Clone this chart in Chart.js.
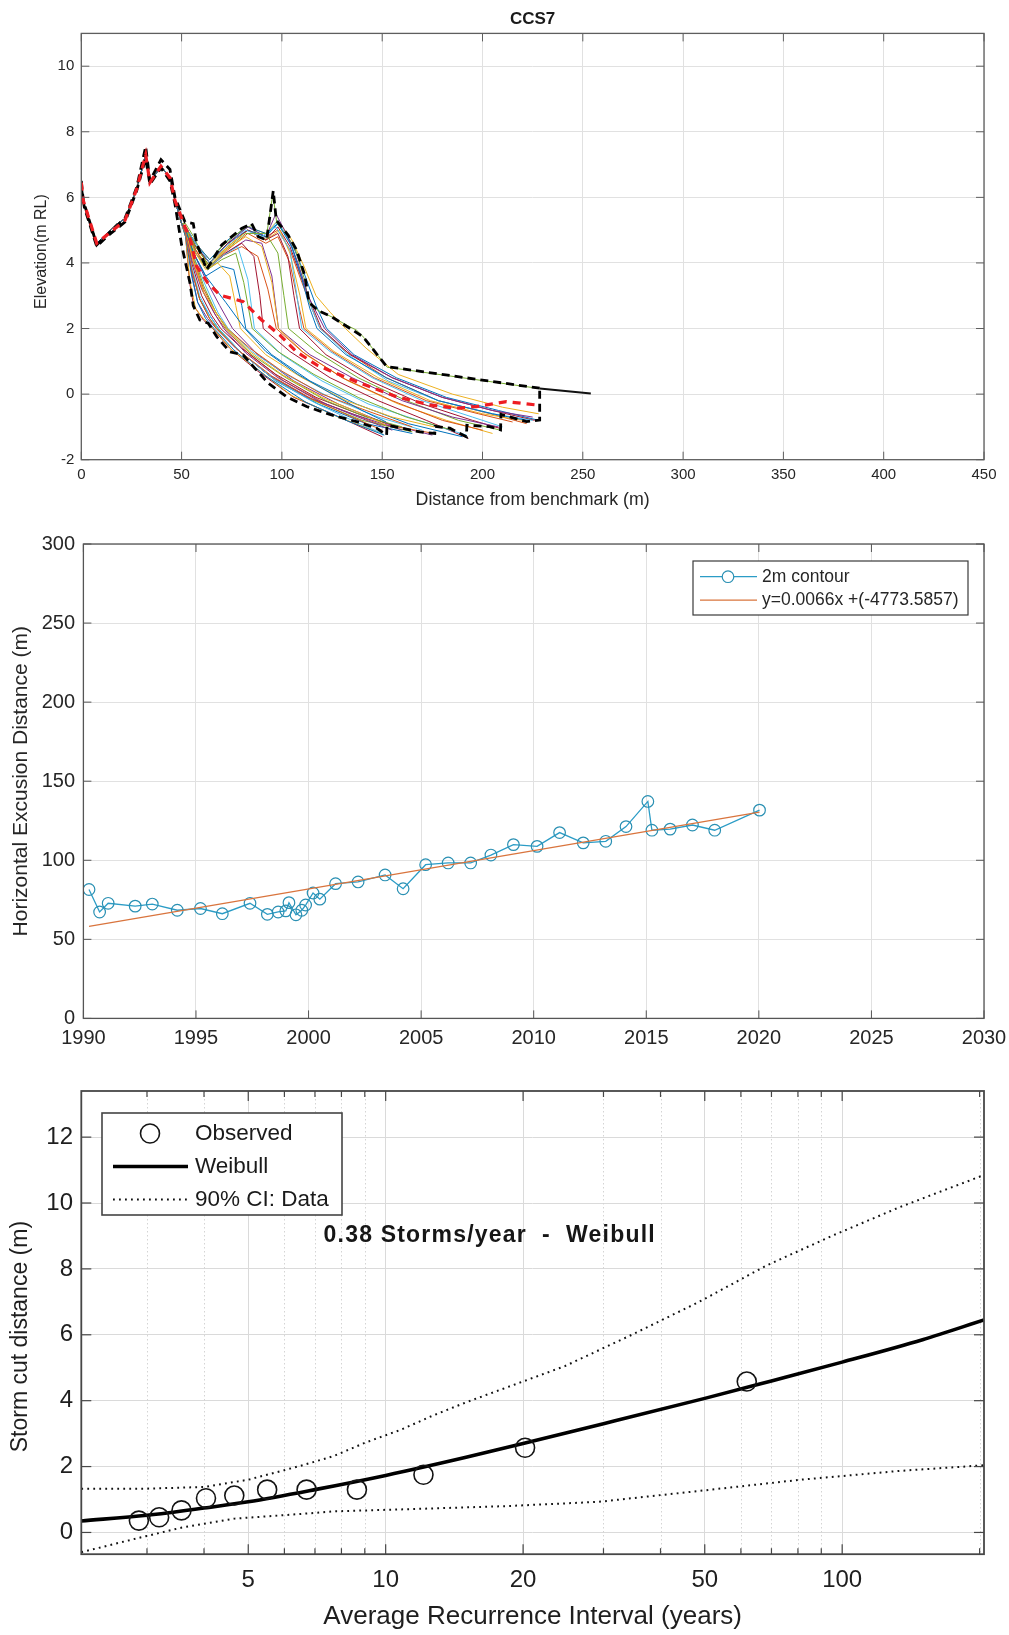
<!DOCTYPE html>
<html>
<head>
<meta charset="utf-8">
<title>CCS7 profile, 2 m contour and storm cut recurrence</title>
<script src="https://cdn.jsdelivr.net/npm/chart.js@4.4.1/dist/chart.umd.min.js"></script>
<style>
  html, body { margin: 0; padding: 0; background: #ffffff; }
  body { width: 1009px; height: 1635px; position: relative; overflow: hidden; }
  canvas { position: absolute; left: 0; }
</style>
</head>
<body>
<canvas id="profiles" width="1009" height="520" style="top:0px"></canvas>
<canvas id="excursion" width="1009" height="540" style="top:520px"></canvas>
<canvas id="stormcut" width="1009" height="575" style="top:1060px"></canvas>
<script>
// ---------------------------------------------------------------------------
// Beach profile surveys, CCS7 (distance from benchmark in m, elevation in m RL)
// ---------------------------------------------------------------------------
const distanceTicks = [0, 50, 100, 150, 200, 250, 300, 350, 400, 450];
const elevationTicks = [-2, 0, 2, 4, 6, 8, 10];

// Dune section common to every survey
const duneProfile = [[0,6.4],[1,5.85],[7.7,4.6],[12.7,4.9],[18,5.2],[21.8,5.35],[27.6,6.25],
  [32.1,7.3],[34.2,6.5],[37,6.7],[39.7,6.95],[44.2,6.6],[46.7,5.9],[50,5.2]];

const surveyYears = [1990.25,1990.72,1991.1,1992.3,1993.06,1994.17,1995.2,1996.17,1997.4,1998.17,
  1998.65,1998.99,1999.13,1999.44,1999.7,1999.87,2000.2,2000.5,2001.2,2002.2,2003.4,2004.2,2005.2,
  2006.2,2007.2,2008.1,2009.1,2010.15,2011.15,2012.2,2013.2,2014.1,2015.07,2015.25,2016.06,2017.05,
  2018.04,2020.03];

// Horizontal position of the 2 m contour for each survey
const contour2m = [81.5,67.3,72.8,71,72.3,68.4,69.5,66.2,72.8,65.8,67.3,68,73.2,65.5,68.4,71.7,
  79.3,75.4,85.2,86.3,90.7,82,97.2,98.3,98.3,103.3,109.9,108.8,117.5,111,112,121.3,137.2,119,
  119.7,122.3,119,131.7];

// Seaward part of each survey, in survey order
const seawardProfiles = [
  [[52,5.0],[56,4.3],[62,3.6],[72,2.8],[81.5,2.0],[92,1.3],[108,0.6],[125,0.0],[140,-0.5],[152,-0.85]],
  [[52,4.9],[55,3.8],[59,2.9],[64,2.3],[67.3,2.0],[78,1.35],[95,0.55],[115,-0.15],[135,-0.7],[150,-1.1]],
  [[52,5.0],[56,4.0],[61,3.1],[68,2.4],[72.8,2.0],[84,1.3],[100,0.6],[120,-0.1],[140,-0.6],[152,-0.95]],
  [[52,5.0],[55,4.1],[60,3.2],[66,2.5],[71,2.0],[82,1.25],[98,0.5],[118,-0.2],[138,-0.7],[155,-1.1]],
  [[52,5.1],[56,4.2],[61,3.3],[67,2.5],[72.3,2.0],[85,1.2],[102,0.5],[122,-0.2],[142,-0.7],[160,-1.0]],
  [[52,4.9],[55,3.9],[59,3.0],[64,2.4],[68.4,2.0],[80,1.25],[96,0.45],[116,-0.25],[135,-0.8],[150,-1.2]],
  [[52,5.0],[55,4.0],[60,3.0],[65,2.4],[69.5,2.0],[80,1.4],[97,0.6],[117,-0.1],[138,-0.6],[158,-1.0]],
  [[52,4.8],[55,3.6],[58,2.8],[62,2.3],[66.2,2.0],[76,1.35],[92,0.55],[112,-0.25],[132,-0.8],[151,-1.25]],
  [[52,5.0],[56,4.1],[61,3.2],[67,2.5],[72.8,2.0],[84,1.4],[100,0.7],[120,0.0],[142,-0.5],[165,-1.0]],
  [[52,4.8],[54,3.5],[57,2.6],[61,2.3],[65.8,2.0],[75,1.35],[88,0.75],[105,-0.05],[128,-0.7],[150,-1.2]],
  [[52,4.9],[55,3.7],[58,2.8],[63,2.3],[67.3,2.0],[77,1.4],[93,0.6],[113,-0.1],[135,-0.6],[160,-1.1]],
  [[52,5.0],[55,3.8],[59,2.9],[64,2.3],[68,2.0],[79,1.3],[95,0.5],[116,-0.2],[140,-0.8],[165,-1.15]],
  [[52,5.0],[56,4.2],[62,3.3],[68,2.5],[73.2,2.0],[85,1.3],[102,0.6],[124,-0.1],[148,-0.7],[170,-1.1]],
  [[52,4.8],[54,3.4],[56,2.7],[61,2.25],[65.5,2.0],[74,1.4],[88,0.7],[106,-0.1],[125,-0.6],[150,-1.3]],
  [[52,4.9],[55,3.8],[59,2.9],[64,2.4],[68.4,2.0],[80,1.25],[97,0.4],[118,-0.3],[142,-0.9],[165,-1.2]],
  [[52,5.0],[56,4.0],[61,3.1],[67,2.4],[71.7,2.0],[84,1.2],[101,0.4],[122,-0.3],[148,-0.9],[176,-1.2]],
  [[52,5.1],[56,4.4],[62,3.8],[68,4.0],[74,3.6],[77,2.7],[79.3,2.0],[92,1.2],[110,0.5],[132,-0.2],[155,-0.7],[176,-1.0]],
  [[52,5.0],[56,4.3],[62,3.5],[69,2.7],[75.4,2.0],[88,1.2],[106,0.4],[128,-0.3],[152,-0.9],[175,-1.25]],
  [[52,5.1],[57,4.3],[63,3.8],[70,4.1],[77,4.3],[81,3.4],[85.2,2.0],[98,1.3],[116,0.6],[138,-0.1],[162,-0.7],[185,-1.1]],
  [[52,5.1],[57,4.3],[63,3.8],[70,4.2],[78,4.5],[83,3.5],[86.3,2.0],[100,1.2],[120,0.4],[143,-0.3],[168,-0.8],[192,-1.25]],
  [[52,5.1],[57,4.3],[63,3.8],[72,4.3],[80,4.6],[86,4.2],[89,3.0],[90.7,2.0],[104,1.3],[124,0.5],[148,-0.2],[172,-0.8],[193,-1.35]],
  [[52,5.0],[56,4.3],[62,3.6],[70,3.9],[76,3.8],[80,2.7],[82,2.0],[95,1.2],[114,0.4],[137,-0.3],[163,-0.9],[190,-1.3]],
  [[52,5.1],[57,4.4],[63,3.8],[70,4.2],[80,4.5],[88,4.2],[93,3.2],[97.2,2.0],[110,1.3],[130,0.5],[155,-0.2],[180,-0.8],[200,-1.1]],
  [[52,5.1],[57,4.4],[63,3.9],[72,4.4],[82,4.8],[90,4.5],[95,3.4],[98.3,2.0],[112,1.2],[133,0.4],[158,-0.3],[182,-0.8],[205,-1.2]],
  [[52,5.1],[57,4.4],[63,3.8],[72,4.3],[82,4.7],[90,4.6],[95,3.6],[98.3,2.0],[114,1.2],[135,0.5],[160,-0.2],[185,-0.7],[208,-1.0]],
  [[52,5.1],[57,4.5],[64,3.9],[72,4.4],[82,4.9],[92,4.9],[98,4.3],[101,3.0],[103.3,2.0],[117,1.3],[138,0.5],[162,-0.2],[188,-0.8],[209,-1.1]],
  [[52,5.1],[57,4.6],[64,4.0],[72,4.5],[82,5.0],[90,4.8],[97,5.1],[104,4.4],[107,3.2],[109.9,2.0],[124,1.3],[145,0.5],[170,-0.2],[195,-0.7],[210,-1.0]],
  [[52,5.1],[57,4.5],[64,4.0],[73,4.6],[83,5.0],[92,4.7],[98,4.9],[103,4.2],[106,3.0],[108.8,2.0],[122,1.2],[144,0.4],[170,-0.3],[195,-0.8],[209,-1.05]],
  [[52,5.1],[57,4.5],[64,4.0],[73,4.6],[83,5.0],[92,4.8],[98,5.2],[105,4.5],[110,3.5],[114,2.6],[117.5,2.0],[132,1.2],[152,0.5],[178,-0.2],[205,-0.6],[222,-0.8]],
  [[52,5.1],[57,4.5],[64,3.9],[73,4.4],[83,4.9],[92,4.6],[98,4.8],[104,4.0],[108,2.8],[111,2.0],[125,1.3],[146,0.5],[172,-0.2],[198,-0.6],[215,-0.85]],
  [[52,5.1],[57,4.5],[64,4.0],[73,4.5],[83,5.0],[92,4.7],[99,5.0],[104,4.3],[109,3.0],[112,2.0],[126,1.3],[148,0.5],[174,-0.2],[200,-0.6],[220,-0.8]],
  [[52,5.1],[57,4.6],[64,4.0],[73,4.6],[83,5.1],[92,4.8],[97,5.5],[103,4.8],[108,4.0],[113,3.0],[118,2.4],[121.3,2.0],[135,1.2],[155,0.5],[180,-0.1],[205,-0.5],[225,-0.7]],
  [[52,5.2],[56,4.8],[63,3.9],[70,4.5],[80,5.0],[85,5.15],[88,4.8],[92,4.7],[95.5,6.1],[97.5,5.2],[103,4.8],[107,4.35],[111,3.55],[113.5,2.8],[118,2.55],[125,2.35],[134,2.05],[137.2,1.95],[141,1.72],[152.5,0.82],[228.5,0.17],[254,0.02]],
  [[52,5.1],[57,4.5],[64,4.0],[73,4.6],[83,5.1],[92,4.8],[98,5.3],[104,4.6],[110,3.6],[115,2.6],[119,2.0],[133,1.2],[153,0.4],[178,-0.2],[205,-0.6],[225,-0.8]],
  [[52,5.1],[57,4.5],[64,4.0],[73,4.6],[83,5.0],[92,4.7],[98,5.1],[104,4.5],[110,3.5],[115,2.7],[119.7,2.0],[134,1.2],[155,0.5],[180,-0.1],[205,-0.5],[226,-0.8]],
  [[52,5.1],[57,4.6],[64,4.1],[73,4.7],[83,5.1],[92,4.9],[98,5.2],[105,4.6],[111,3.7],[117,2.7],[122.3,2.0],[136,1.2],[157,0.5],[182,-0.1],[208,-0.5],[228,-0.8]],
  [[52,5.1],[57,4.5],[64,4.0],[73,4.5],[83,5.0],[92,4.8],[98,5.0],[104,4.4],[110,3.4],[115,2.6],[119,2.0],[132,1.3],[152,0.5],[178,-0.2],[204,-0.6],[222,-0.9]],
  [[52,5.1],[57,4.6],[64,4.1],[73,4.7],[83,5.1],[92,4.9],[98,5.3],[105,4.7],[111,3.9],[117,3.0],[124,2.5],[131.7,2.0],[142,1.4],[158,0.6],[185,0.0],[210,-0.4],[228,-0.6]]
];

// Upper and lower envelopes of all surveys, and the mean profile
const envelopeMax = [[0,6.5],[1,5.9],[7.7,4.55],[12.7,4.85],[21.8,5.36],[27.6,6.3],[32.1,7.55],[34.2,6.5],
  [39.7,7.15],[44.2,6.85],[46.7,6.0],[51.7,5.25],[55.8,5.2],[57.5,4.6],[62.5,3.8],[70,4.55],[79.9,5.05],
  [84.9,5.2],[88.2,4.8],[92.4,4.7],[95.7,6.2],[97.2,5.3],[103.1,4.85],[107.3,4.4],[111.5,3.6],[113.5,2.8],
  [118,2.55],[125,2.35],[134,2.0],[140.5,1.75],[152.2,0.84],[228.5,0.18]];
const envelopeMin = [[0,6.3],[1.5,5.7],[7.7,4.5],[12.7,4.8],[21.8,5.25],[27.6,6.2],[32.1,7.2],[34.2,6.4],
  [39.7,6.9],[44.2,6.5],[46.7,5.8],[50,4.55],[54.2,3.38],[55.8,2.7],[59.1,2.26],[63.3,2.16],[67.5,1.75],
  [74.1,1.29],[80.7,1.19],[86.5,0.79],[93.2,0.33],[102.3,-0.08],[112.3,-0.38],[123.9,-0.62],[137.2,-0.84],
  [147.2,-1.04],[152.2,-1.25],[152.4,-0.95],[168.8,-1.15],[176.2,-1.2],[176.4,-0.98],[183.7,-1.04],
  [192,-1.3],[192.2,-0.95],[203.6,-0.99],[209,-1.09],[209.2,-0.62],[221.9,-0.84],[228.5,-0.79],[228.5,0.18]];
const profileMean = [[0,6.45],[1,5.9],[7.7,4.6],[12.7,4.85],[21.8,5.3],[27.6,6.25],[32.1,7.3],[34.2,6.45],
  [39.7,6.95],[44.2,6.6],[46.7,5.9],[51.7,5.1],[54,4.8],[57.5,3.9],[63,3.4],[69.1,3.02],[80.7,2.82],
  [89.9,2.26],[99,1.8],[107.3,1.29],[117.3,0.89],[127.2,0.63],[137.2,0.38],[147.2,0.15],[157.2,-0.08],
  [173.7,-0.33],[187,-0.43],[197,-0.38],[211.9,-0.23],[226.9,-0.33]];
// Last chainage covered by the envelope; beyond it a survey is drawn in black
const envelopeEnd = 228.5;

// ---------------------------------------------------------------------------
// 2 m contour: horizontal excursion and linear trend
// ---------------------------------------------------------------------------
const yearTicks = [1990, 1995, 2000, 2005, 2010, 2015, 2020, 2025, 2030];
const excursionTicks = [0, 50, 100, 150, 200, 250, 300];
const trendYears = [1990.25, 2020.03];
const trendValues = [58.2, 130.5];
const trendSlope = '0.0066';
const trendIntercept = '-4773.5857';

// ---------------------------------------------------------------------------
// Storm cut distance against average recurrence interval
// ---------------------------------------------------------------------------
const stormRate = 0.38;
const ariMajorTicks = [5, 10, 20, 50, 100];
const ariMinorTicks = [3, 4, 6, 7, 8, 9, 30, 40, 60, 70, 80, 90, 200];
const cutTicks = [0, 2, 4, 6, 8, 10, 12];
const ariObserved = [2.88, 3.19, 3.57, 4.04, 4.66, 5.5, 6.71, 8.65, 12.1, 20.2, 61.8];
const cutObserved = [0.36, 0.46, 0.67, 1.04, 1.12, 1.3, 1.3, 1.3, 1.75, 2.57, 4.58];
const ariFit = [2.154, 3, 4, 5, 7, 10, 15, 20, 30, 50, 70, 100, 150, 204.5];
const cutWeibull = [0.35, 0.52, 0.74, 0.93, 1.3, 1.73, 2.28, 2.7, 3.3, 4.07, 4.6, 5.17, 5.85, 6.45];
const ariUpper = [2.154, 3, 4, 5, 6.5, 7.7, 9, 10.8, 12.7, 15, 18.4, 24.7, 34.6, 48.6, 68.2, 95.6, 134, 204.5];
const cutUpper = [1.33, 1.33, 1.38, 1.6, 2.02, 2.32, 2.72, 3.12, 3.55, 3.95, 4.4, 5.05, 6.0, 7.0, 8.1, 9.02, 9.88, 10.85];
const ariLower = [2.154, 2.83, 3.58, 4.67, 6.5, 7.7, 10.8, 18.4, 29.3, 48.6, 81, 134, 204.5];
const cutLower = [-0.6, -0.19, 0.15, 0.42, 0.56, 0.64, 0.7, 0.8, 0.93, 1.26, 1.6, 1.87, 2.04];

// ---------------------------------------------------------------------------
const FONT = "'Liberation Sans', Arial, Helvetica, sans-serif";
const INK = '#262626';
const GRID = '#e1e1e1';
const LINE_COLOURS = ['#0072BD', '#D95319', '#EDB120', '#7E2F8E', '#77AC30', '#4DBEEE', '#A2142F'];

const pairs = arr => arr.map(([x, y]) => ({ x, y }));
const zipXY = (xs, ys) => xs.map((x, i) => ({ x, y: ys[i] }));
const fixTicks = list => scale => { scale.ticks = list.map(v => ({ value: v })); };
const plainLabel = v => String(v);
// fixed axis band sizes; end labels must not pull the plot area in
const bandHeight = h => s => { s.height = h; s.paddingLeft = 0; s.paddingRight = 0; };
const bandWidth = w => s => { s.width = w; };

// Box round the axes with inward tick marks on all four sides, plus dotted minor grid
const axesFrame = {
  id: 'axesFrame',
  beforeDatasetsDraw(chart, args, o) {
    if (!o.minorX) return;
    const { ctx, chartArea: a, scales: { x } } = chart;
    ctx.save();
    ctx.strokeStyle = o.minorGrid;
    ctx.lineWidth = 1;
    ctx.setLineDash([1.5, 2.5]);
    o.minorX.forEach(v => {
      if (v <= x.min || v >= x.max) return;
      const px = Math.round(x.getPixelForValue(v)) + 0.5;
      ctx.beginPath(); ctx.moveTo(px, a.top); ctx.lineTo(px, a.bottom); ctx.stroke();
    });
    ctx.restore();
  },
  afterDatasetsDraw(chart, args, o) {
    const { ctx, chartArea: a, scales: { x, y } } = chart;
    ctx.save();
    ctx.strokeStyle = o.color;
    ctx.lineWidth = o.tickWidth;
    const seg = (x1, y1, x2, y2) => { ctx.beginPath(); ctx.moveTo(x1, y1); ctx.lineTo(x2, y2); ctx.stroke(); };
    x.ticks.forEach(t => {
      const px = x.getPixelForValue(t.value);
      const len = (o.minorX && o.minorX.includes(t.value)) ? o.minorLen : o.len;
      seg(px, a.bottom, px, a.bottom - len);
      seg(px, a.top, px, a.top + len);
    });
    y.ticks.forEach(t => {
      const py = y.getPixelForValue(t.value);
      seg(a.left, py, a.left + o.len, py);
      seg(a.right, py, a.right - o.len, py);
    });
    ctx.lineWidth = o.width;
    ctx.strokeRect(a.left, a.top, a.right - a.left, a.bottom - a.top);
    ctx.restore();
  }
};

// Title centred over the plot area, and a rotated caption beside the y axis
const panelText = {
  id: 'panelText',
  afterDraw(chart, args, o) {
    const { ctx, chartArea: a } = chart;
    ctx.save();
    ctx.textAlign = 'center';
    ctx.textBaseline = 'middle';
    if (o.title) {
      ctx.font = 'bold ' + o.title.size + 'px ' + FONT;
      ctx.fillStyle = o.title.color;
      ctx.fillText(o.title.text, (a.left + a.right) / 2, o.title.y);
    }
    if (o.yCaption) {
      ctx.font = o.yCaption.size + 'px ' + FONT;
      ctx.fillStyle = o.yCaption.color;
      ctx.translate(o.yCaption.x, (a.top + a.bottom) / 2 + o.yCaption.shift);
      ctx.rotate(-Math.PI / 2);
      ctx.fillText(o.yCaption.text, 0, 0);
    }
    ctx.restore();
  }
};

// Boxed legend drawn inside the axes from the datasets' own labels and styles
const boxLegend = {
  id: 'boxLegend',
  afterDraw(chart, args, o) {
    const ctx = chart.ctx;
    ctx.save();
    ctx.fillStyle = '#ffffff';
    ctx.fillRect(o.left, o.top, o.width, o.height);
    ctx.strokeStyle = o.borderColor;
    ctx.lineWidth = o.borderWidth;
    ctx.strokeRect(o.left, o.top, o.width, o.height);
    o.items.forEach((idx, i) => {
      const ds = chart.data.datasets[idx];
      const cy = o.top + o.rowTop + i * o.rowGap;
      if (ds.showLine !== false) {
        ctx.strokeStyle = ds.borderColor;
        ctx.lineWidth = ds.borderWidth;
        ctx.setLineDash(ds.borderDash || []);
        ctx.beginPath();
        ctx.moveTo(o.left + o.sampleFrom, cy);
        ctx.lineTo(o.left + o.sampleTo, cy);
        ctx.stroke();
        ctx.setLineDash([]);
      }
      if (ds.pointRadius) {
        ctx.strokeStyle = ds.pointBorderColor;
        ctx.lineWidth = ds.pointBorderWidth;
        ctx.fillStyle = '#ffffff';
        ctx.beginPath();
        ctx.arc(o.left + o.markerX, cy, ds.pointRadius, 0, Math.PI * 2);
        ctx.fill();
        ctx.stroke();
      }
      ctx.fillStyle = o.textColor;
      ctx.font = o.fontSize + 'px ' + FONT;
      ctx.textAlign = 'left';
      ctx.textBaseline = 'middle';
      ctx.fillText(ds.label, o.left + o.textX, cy);
    });
    ctx.restore();
  }
};

// Free bold text placed at a data position
const plotNote = {
  id: 'plotNote',
  afterDatasetsDraw(chart, args, o) {
    const { ctx, scales: { x, y } } = chart;
    ctx.save();
    ctx.fillStyle = o.color;
    ctx.font = 'bold ' + o.fontSize + 'px ' + FONT;
    if ('letterSpacing' in ctx) ctx.letterSpacing = o.spacing + 'px';
    ctx.textAlign = 'center';
    ctx.textBaseline = 'middle';
    ctx.fillText(o.text, x.getPixelForValue(o.x), y.getPixelForValue(o.y));
    ctx.restore();
  }
};

const baseOptions = {
  responsive: false,
  animation: false,
  devicePixelRatio: 1,
  events: [],
  elements: { point: { radius: 0 }, line: { tension: 0 } }
};

// ---------------------------- Profiles ------------------------------------
const profileSets = seawardProfiles.map((part, i) => ({
  label: String(surveyYears[i]),
  data: pairs(duneProfile.concat(part)),
  borderColor: LINE_COLOURS[i % LINE_COLOURS.length],
  borderWidth: 1,
  pointRadius: 0,
  order: 2,
  segment: {
    borderColor: c => (c.p0.parsed.x >= envelopeEnd ? '#111111' : undefined),
    borderWidth: c => (c.p0.parsed.x >= envelopeEnd ? 2 : undefined)
  }
}));

new Chart(document.getElementById('profiles'), {
  type: 'line',
  data: {
    datasets: [
      { label: 'Mean', data: pairs(profileMean), borderColor: '#ee1d23', borderWidth: 3.2,
        borderDash: [8, 6], pointRadius: 0, order: 0 },
      { label: 'Maximum', data: pairs(envelopeMax), borderColor: '#000000', borderWidth: 2.8,
        borderDash: [8, 5], pointRadius: 0, order: 1 },
      { label: 'Minimum', data: pairs(envelopeMin), borderColor: '#000000', borderWidth: 2.8,
        borderDash: [8, 5], pointRadius: 0, order: 1 },
      ...profileSets
    ]
  },
  options: {
    ...baseOptions,
    layout: { padding: { left: 0, right: 25, top: 33.4, bottom: 0 } },
    scales: {
      x: {
        type: 'linear', min: 0, max: 450,
        afterBuildTicks: fixTicks(distanceTicks),
        afterFit: bandHeight(60.3),
        grid: { color: GRID, drawTicks: false },
        border: { display: false },
        ticks: { padding: 6.6, color: INK, font: { family: FONT, size: 15 }, autoSkip: false, maxRotation: 0, callback: plainLabel },
        title: { display: true, text: 'Distance from benchmark (m)', color: INK,
          font: { family: FONT, size: 17.8 }, padding: { top: 0, bottom: 9.5 } }
      },
      y: {
        type: 'linear', min: -2, max: 11,
        afterBuildTicks: fixTicks(elevationTicks),
        afterFit: bandWidth(81.3),
        grid: { color: GRID, drawTicks: false },
        border: { display: false },
        ticks: { padding: 7, color: INK, font: { family: FONT, size: 15 }, callback: plainLabel }
      }
    },
    plugins: {
      legend: { display: false },
      tooltip: { enabled: false },
      axesFrame: { color: '#5e5e5e', width: 1.3, tickWidth: 1, len: 8 },
      panelText: {
        title: { text: 'CCS7', size: 17, color: '#1a1a1a', y: 19 },
        yCaption: { text: 'Elevation(m RL)', size: 16, color: INK, x: 42, shift: 5 }
      }
    }
  },
  plugins: [axesFrame, panelText]
});

// ---------------------------- 2 m contour ---------------------------------
new Chart(document.getElementById('excursion'), {
  type: 'line',
  data: {
    datasets: [
      { label: '2m contour', data: zipXY(surveyYears, contour2m), borderColor: '#2b9cc6', borderWidth: 1.3,
        pointRadius: 5.8, pointBorderColor: '#2a90b3', pointBorderWidth: 1.2,
        pointBackgroundColor: 'rgba(0,0,0,0)', order: 1 },
      { label: 'y=' + trendSlope + 'x +(' + trendIntercept + ')', data: zipXY(trendYears, trendValues),
        borderColor: '#d9743d', borderWidth: 1.2, pointRadius: 0, order: 0 }
    ]
  },
  options: {
    ...baseOptions,
    layout: { padding: { left: 0, right: 25, top: 24, bottom: 0 } },
    scales: {
      x: {
        type: 'linear', min: 1990, max: 2030,
        afterBuildTicks: fixTicks(yearTicks),
        afterFit: bandHeight(41.6),
        grid: { color: GRID, drawTicks: false },
        border: { display: false },
        ticks: { padding: 7.8, color: INK, font: { family: FONT, size: 20 }, autoSkip: false, maxRotation: 0, callback: plainLabel }
      },
      y: {
        type: 'linear', min: 0, max: 300,
        afterBuildTicks: fixTicks(excursionTicks),
        afterFit: bandWidth(83.4),
        grid: { color: GRID, drawTicks: false },
        border: { display: false },
        ticks: { padding: 8.4, color: INK, font: { family: FONT, size: 20 }, callback: plainLabel },
        title: { display: true, text: 'Horizontal Excusion Distance (m)', color: INK,
          font: { family: FONT, size: 21 }, padding: { top: 8.4, bottom: 0 } }
      }
    },
    plugins: {
      legend: { display: false },
      tooltip: { enabled: false },
      axesFrame: { color: '#555555', width: 1.3, tickWidth: 1, len: 8 },
      boxLegend: { items: [0, 1], left: 693, top: 41, width: 275, height: 54, rowTop: 15.7, rowGap: 23.5,
        sampleFrom: 7, sampleTo: 64, markerX: 35, textX: 69, fontSize: 17.5,
        textColor: INK, borderColor: '#3a3a3a', borderWidth: 1.2 }
    }
  },
  plugins: [axesFrame, boxLegend]
});

// ---------------------------- Storm cut ARI -------------------------------
const ariAllTicks = ariMajorTicks.concat(ariMinorTicks).sort((a, b) => a - b);

new Chart(document.getElementById('stormcut'), {
  type: 'line',
  data: {
    datasets: [
      { label: 'Observed', data: zipXY(ariObserved, cutObserved), showLine: false,
        pointRadius: 9.5, pointBorderColor: '#141414', pointBorderWidth: 1.6,
        pointBackgroundColor: 'rgba(0,0,0,0)', order: 0 },
      { label: 'Weibull', data: zipXY(ariFit, cutWeibull), borderColor: '#000000', borderWidth: 3.6,
        cubicInterpolationMode: 'monotone', pointRadius: 0, order: 1 },
      { label: '90% CI: Data', data: zipXY(ariUpper, cutUpper), borderColor: '#111111', borderWidth: 2,
        borderDash: [1.8, 4.2], pointRadius: 0, order: 2 },
      { label: '90% CI: Data', data: zipXY(ariLower, cutLower), borderColor: '#111111', borderWidth: 2,
        borderDash: [1.8, 4.2], pointRadius: 0, order: 2 }
    ]
  },
  options: {
    ...baseOptions,
    layout: { padding: { left: 0, right: 25, top: 31, bottom: 0 } },
    scales: {
      x: {
        type: 'logarithmic', min: 2.154, max: 204.5,
        afterBuildTicks: fixTicks(ariAllTicks),
        afterFit: bandHeight(80.8),
        grid: { drawTicks: false, color: c => (c.tick && ariMajorTicks.includes(c.tick.value) ? '#dadada' : 'rgba(0,0,0,0)') },
        border: { display: false },
        ticks: { padding: 11.7, color: '#1e1e1e', font: { family: FONT, size: 24 }, autoSkip: false, maxRotation: 0,
          callback: v => (ariMajorTicks.includes(v) ? String(v) : '') },
        title: { display: true, text: 'Average Recurrence Interval (years)', color: '#1e1e1e',
          font: { family: FONT, size: 26 }, padding: { top: 0, bottom: 2.4 } }
      },
      y: {
        type: 'linear', min: -0.66, max: 13.4,
        afterBuildTicks: fixTicks(cutTicks),
        afterFit: bandWidth(81.3),
        grid: { color: '#dadada', drawTicks: false },
        border: { display: false },
        ticks: { padding: 8.3, color: '#1e1e1e', font: { family: FONT, size: 24 }, callback: plainLabel }
      }
    },
    plugins: {
      legend: { display: false },
      tooltip: { enabled: false },
      axesFrame: { color: '#474747', width: 1.8, tickWidth: 1.2, len: 10, minorLen: 6,
        minorX: ariMinorTicks, minorGrid: '#d4d4d4' },
      panelText: {
        yCaption: { text: 'Storm cut distance (m)', size: 23, color: '#1e1e1e', x: 21, shift: 14 }
      },
      plotNote: { text: stormRate.toFixed(2) + ' Storms/year  -  Weibull', x: 16.9, y: 9.0,
        fontSize: 23, spacing: 1.2, color: '#161616' },
      boxLegend: { items: [0, 1, 2], left: 102, top: 53, width: 240, height: 102, rowTop: 20.5, rowGap: 33,
        sampleFrom: 11, sampleTo: 86, markerX: 48, textX: 93, fontSize: 22.5,
        textColor: '#1a1a1a', borderColor: '#444444', borderWidth: 1.6 }
    }
  },
  plugins: [axesFrame, panelText, plotNote, boxLegend]
});
</script>
</body>
</html>
